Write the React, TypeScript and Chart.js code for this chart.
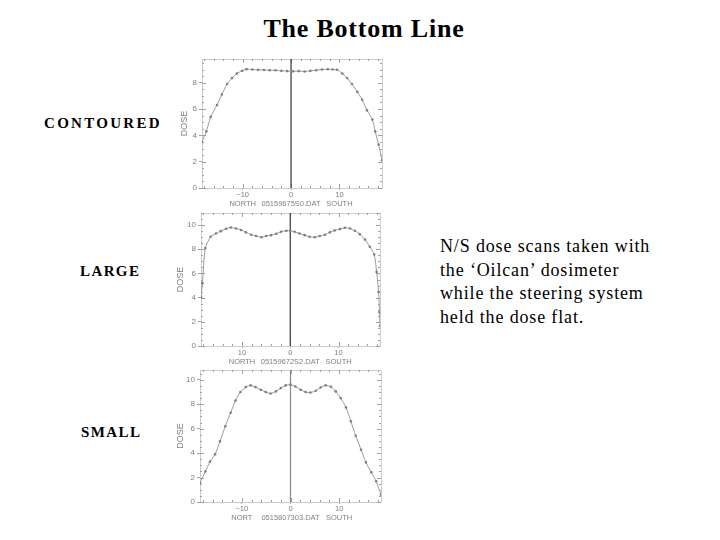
import React, { useEffect, useRef } from "react";
import { Chart, registerables } from "chart.js";

Chart.register(...registerables);

// ---------- data ----------
const contouredX = [-18.4, -17.5, -16.6, -15.3, -14.3, -13.2, -12.2, -11.2, -10.1, -9.2, -8.0, -6.8, -5.6, -4.4, -3.2, -2.0, -0.8, 0.4, 1.6, 2.8, 4.0, 5.2, 6.4, 7.6, 8.6, 9.5, 10.6, 11.6, 12.6, 13.7, 14.7, 15.7, 16.8, 17.4, 18.1, 18.8];
const contouredY = [3.5, 4.3, 5.4, 6.3, 7.1, 7.9, 8.35, 8.7, 8.9, 9.03, 9.0, 8.98, 8.97, 8.95, 8.94, 8.9, 8.88, 8.86, 8.88, 8.85, 8.9, 8.95, 9.0, 9.02, 9.0, 8.98, 8.7, 8.35, 7.9, 7.3, 6.7, 5.9, 5.2, 4.3, 3.3, 2.1];

const largeX = [-18.5, -18.2, -17.6, -16.5, -15.4, -14.4, -13.3, -12.3, -11.25, -10.2, -9.2, -8.1, -7.1, -6.0, -5.0, -4.0, -2.9, -1.9, -0.8, 0, 0.9, 1.9, 3.0, 4.0, 5.1, 6.1, 7.2, 8.2, 9.2, 10.3, 11.3, 12.4, 13.4, 14.4, 15.5, 16.5, 17.4, 17.9, 18.3, 18.5, 18.6];
const largeY = [4.06, 5.2, 8.1, 9.03, 9.3, 9.5, 9.7, 9.8, 9.72, 9.6, 9.4, 9.2, 9.1, 9.0, 9.1, 9.17, 9.28, 9.45, 9.53, 9.53, 9.45, 9.3, 9.17, 9.03, 9.0, 9.1, 9.2, 9.4, 9.56, 9.67, 9.78, 9.72, 9.53, 9.25, 8.8, 8.2, 7.57, 6.13, 4.47, 2.8, 1.66];

const smallX = [-18.6, -17.5, -16.55, -15.5, -14.5, -13.4, -12.3, -11.3, -10.3, -9.2, -8.2, -7.2, -6.1, -5.1, -4.1, -3.0, -2.0, -1.0, 0, 1.0, 2.1, 3.1, 4.1, 5.2, 6.2, 7.2, 8.3, 9.3, 10.3, 11.4, 12.4, 13.4, 14.5, 15.5, 16.6, 17.6, 18.6];
const smallY = [1.55, 2.5, 3.3, 3.9, 4.96, 6.2, 7.3, 8.3, 9.0, 9.4, 9.54, 9.4, 9.18, 9.0, 8.88, 9.05, 9.32, 9.54, 9.6, 9.45, 9.18, 9.0, 8.96, 9.1, 9.37, 9.54, 9.43, 9.05, 8.5, 7.74, 6.6, 5.42, 4.28, 3.24, 2.43, 1.7, 0.6];

const xTickValues = [-10, 0, 10];
const yTickValues = [0, 2, 4, 6, 8, 10];
const contouredXLabels = [["\u221210", "NORTH"], ["0", "05159675S0.DAT"], ["10", "SOUTH"]];
const largeXLabels = [["10", "NORTH"], ["0", "05159672S2.DAT"], ["10", "SOUTH"]];
const smallXLabels = [["\u221210", "NORT"], ["0", "0515807303.DAT"], ["10", "SOUTH"]];

const contouredYMax = 9.8;
const largeYMax = 11;
const smallYMax = 10.8;

const leftLabels = ["CONTOURED", "LARGE", "SMALL"];
const titleText = "The Bottom Line";
const noteLines = [
  "N/S dose scans taken with",
  "the \u2018Oilcan\u2019 dosimeter",
  "while the steering system",
  "held the dose flat.",
];

// ---------- chart ----------
type Panel = {
  xs: number[];
  ys: number[];
  labels: string[][];
  yMax: number;
  xMin: number;
  xMax: number;
  left: number;
  top: number;
  width: number;
  height: number;
  yAxisWidth: number;
  xAxisHeight: number;
  padTop: number;
  padRight: number;
  centerColor: string;
};

const framePlugin = {
  id: "frame",
  beforeDatasetsDraw(chart: any) {
    const { ctx, chartArea } = chart;
    const xs = chart.scales.x;
    const ys = chart.scales.y;
    ctx.save();
    ctx.strokeStyle = "#cccccc";
    ctx.lineWidth = 1;
    ctx.strokeRect(chartArea.left + 0.5, chartArea.top + 0.5, chartArea.width, chartArea.height);
    ctx.strokeStyle = "#a0a0a0";
    for (let v = 0; v <= ys.max + 1e-6; v += 0.5) {
      const py = Math.round(ys.getPixelForValue(v)) + 0.5;
      const len = Math.abs(v % 2) < 1e-6 ? 4 : 2;
      ctx.beginPath();
      ctx.moveTo(chartArea.left, py);
      ctx.lineTo(chartArea.left + len, py);
      ctx.moveTo(chartArea.right, py);
      ctx.lineTo(chartArea.right - len, py);
      ctx.stroke();
    }
    for (let v = -18; v <= xs.max + 1e-6; v += 2) {
      if (v < xs.min) continue;
      const px = Math.round(xs.getPixelForValue(v)) + 0.5;
      const len = v % 10 === 0 ? 4 : 2;
      ctx.beginPath();
      ctx.moveTo(px, chartArea.bottom);
      ctx.lineTo(px, chartArea.bottom - len);
      ctx.moveTo(px, chartArea.top);
      ctx.lineTo(px, chartArea.top + len);
      ctx.stroke();
    }
    ctx.restore();
  },
};

function DoseChart(p: Panel) {
  const ref = useRef<HTMLCanvasElement | null>(null);
  useEffect(() => {
    if (!ref.current) return;
    const pts = p.xs.map((x, i) => ({ x, y: p.ys[i] }));
    const chart = new Chart(ref.current, {
      type: "scatter",
      data: {
        datasets: [
          {
            data: pts,
            showLine: true,
            borderColor: "#9a9a9a",
            borderWidth: 1,
            pointRadius: 1.3,
            pointBackgroundColor: "#808080",
            pointBorderColor: "#808080",
            pointBorderWidth: 0,
            tension: 0.25,
          },
          {
            data: [
              { x: 0, y: 0 },
              { x: 0, y: p.yMax },
            ],
            showLine: true,
            borderColor: p.centerColor,
            borderWidth: 1.2,
            pointRadius: 0,
          },
        ],
      },
      options: {
        animation: false,
        responsive: false,
        layout: { padding: { top: p.padTop, right: p.padRight, left: 0, bottom: 0 } },
        plugins: { legend: { display: false }, tooltip: { enabled: false } },
        scales: {
          x: {
            type: "linear",
            min: p.xMin,
            max: p.xMax,
            afterBuildTicks: (axis: any) => {
              axis.ticks = xTickValues.map((v) => ({ value: v }));
            },
            afterFit: (axis: any) => {
              axis.height = p.xAxisHeight;
            },
            ticks: {
              autoSkip: false,
              maxRotation: 0,
              padding: 1,
              color: "#808080",
              font: { family: "Liberation Sans", size: 7.5, lineHeight: 1.15 },
              callback: (value: any) => {
                const i = xTickValues.indexOf(Number(value));
                return i >= 0 ? p.labels[i] : "";
              },
            },
            grid: { display: true, drawOnChartArea: false, drawTicks: true, tickLength: 2, color: "#a0a0a0" },
            border: { display: true, color: "#808080", width: 1 },
          },
          y: {
            type: "linear",
            min: 0,
            max: p.yMax,
            afterBuildTicks: (axis: any) => {
              axis.ticks = yTickValues.filter((v) => v <= p.yMax).map((v) => ({ value: v }));
            },
            afterFit: (axis: any) => {
              axis.width = p.yAxisWidth;
            },
            ticks: {
              padding: 2,
              color: "#808080",
              font: { family: "Liberation Sans", size: 8 },
            },
            title: {
              display: true,
              text: "DOSE",
              color: "#808080",
              padding: { top: 0, bottom: 0 },
              font: { family: "Liberation Sans", size: 9 },
            },
            grid: { display: true, drawOnChartArea: false, drawTicks: true, tickLength: 3, color: "#a0a0a0" },
            border: { display: true, color: "#808080", width: 1 },
          },
        },
      },
      plugins: [framePlugin],
    });
    return () => chart.destroy();
  }, []);
  return (
    <canvas
      ref={ref}
      width={p.width}
      height={p.height}
      style={{ position: "absolute", left: p.left, top: p.top, width: p.width, height: p.height }}
    />
  );
}

const serif = "'Liberation Serif', 'DejaVu Serif', serif";
const labelStyle: React.CSSProperties = {
  position: "absolute",
  fontFamily: serif,
  fontWeight: "bold",
  fontSize: 15,
  letterSpacing: 1.4,
  color: "#000",
};

export default function App() {
  return (
    <div style={{ position: "absolute", left: 0, top: 0, width: 720, height: 540, background: "#fff", overflow: "hidden" }}>
      <div
        style={{
          position: "absolute",
          left: 0,
          width: 720,
          top: 14,
          textAlign: "center",
          fontFamily: serif,
          fontWeight: "bold",
          fontSize: 26,
          letterSpacing: 0.8,
          color: "#000",
          paddingLeft: 4,
        }}
      >
        {titleText}
      </div>
      <div style={{ ...labelStyle, left: 44, top: 115, letterSpacing: 2.3 }}>{leftLabels[0]}</div>
      <div style={{ ...labelStyle, left: 80, top: 263 }}>{leftLabels[1]}</div>
      <div style={{ ...labelStyle, left: 81, top: 424 }}>{leftLabels[2]}</div>
      <div style={{ position: "absolute", left: 440, top: 235, fontFamily: serif, fontSize: 18, lineHeight: "23.5px", letterSpacing: 0.85, color: "#000" }}>
        {noteLines.map((l, i) => (
          <div key={i}>{l}</div>
        ))}
      </div>
      <DoseChart
        xs={contouredX}
        ys={contouredY}
        labels={contouredXLabels}
        yMax={contouredYMax}
        xMin={-18.4}
        xMax={18.8}
        left={179}
        top={50}
        width={211}
        height={165}
        yAxisWidth={23}
        xAxisHeight={27}
        padTop={9}
        padRight={8}
        centerColor="#333"
      />
      <DoseChart
        xs={largeX}
        ys={largeY}
        labels={largeXLabels}
        yMax={largeYMax}
        xMin={-18.5}
        xMax={18.6}
        left={175}
        top={205}
        width={215}
        height={170}
        yAxisWidth={26}
        xAxisHeight={29}
        padTop={8}
        padRight={10}
        centerColor="#333"
      />
      <DoseChart
        xs={smallX}
        ys={smallY}
        labels={smallXLabels}
        yMax={smallYMax}
        xMin={-18.6}
        xMax={18.6}
        left={175}
        top={362}
        width={215}
        height={175}
        yAxisWidth={25}
        xAxisHeight={35}
        padTop={8}
        padRight={9}
        centerColor="#888"
      />
    </div>
  );
}
